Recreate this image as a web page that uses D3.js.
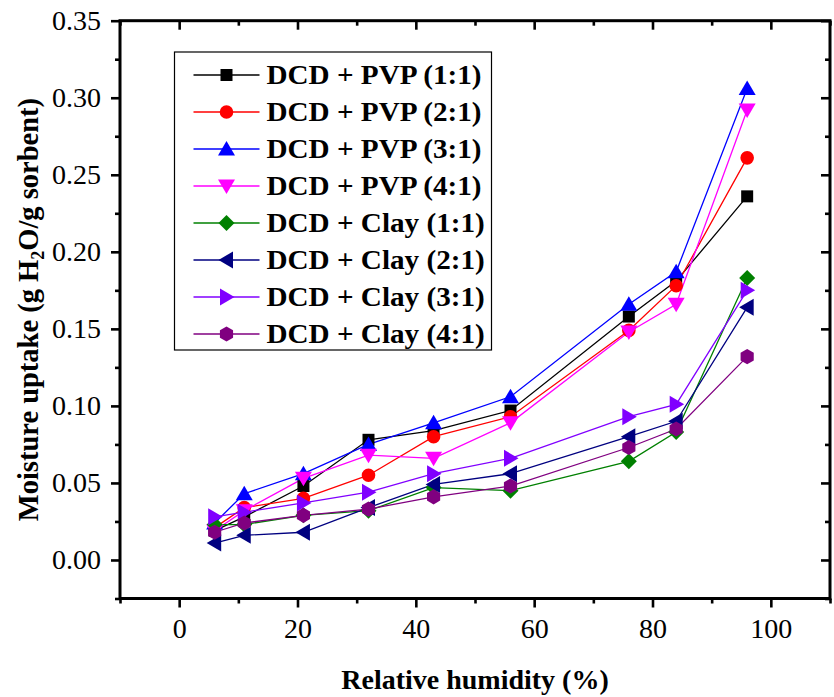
<!DOCTYPE html>
<html lang="en">

<head>
    <meta charset="utf-8">
    <title>Moisture uptake</title>
    <script src="https://d3js.org/d3.v7.min.js"></script>
    <style>
        body { margin: 0; background: #fff; }
        text { font-family: "Liberation Serif", "Times New Roman", serif; }
    </style>
</head>

<body>
    <script>
        // data
        const humidity = [6, 11, 21, 32, 43, 56, 76, 84, 96];
        const seriesNames = [
            "DCD + PVP (1:1)", "DCD + PVP (2:1)", "DCD + PVP (3:1)", "DCD + PVP (4:1)",
            "DCD + Clay (1:1)", "DCD + Clay (2:1)", "DCD + Clay (3:1)", "DCD + Clay (4:1)"
        ];
        const pvp11 = [0.019, 0.028, 0.048, 0.078, 0.084, 0.097, 0.158, 0.181, 0.236];
        const pvp21 = [0.021, 0.034, 0.040, 0.055, 0.080, 0.093, 0.149, 0.178, 0.261];
        const pvp31 = [0.024, 0.043, 0.056, 0.075, 0.089, 0.106, 0.166, 0.187, 0.306];
        const pvp41 = [0.019, 0.032, 0.053, 0.068, 0.066, 0.089, 0.148, 0.166, 0.292];
        const clay11 = [0.023, 0.023, 0.029, 0.032, 0.047, 0.045, 0.064, 0.083, 0.183];
        const clay21 = [0.011, 0.016, 0.018, 0.034, 0.049, 0.056, 0.080, 0.090, 0.164];
        const clay31 = [0.028, 0.031, 0.037, 0.044, 0.056, 0.066, 0.093, 0.101, 0.175];
        const clay41 = [0.018, 0.024, 0.029, 0.033, 0.041, 0.048, 0.073, 0.085, 0.132];
        const xTicks = [0, 20, 40, 60, 80, 100];
        const yTicks = [0.00, 0.05, 0.10, 0.15, 0.20, 0.25, 0.30, 0.35];

        const seriesValues = [pvp11, pvp21, pvp31, pvp41, clay11, clay21, clay31, clay41];
        const colors = ["#000000", "#ff0000", "#0000ff", "#ff00ff", "#008000", "#000080", "#8000ff", "#800080"];
        const shapes = ["square", "circle", "up", "down", "diamond", "left", "right", "hexagon"];

        // dimensions and margins
        const width = 834;
        const height = 697;
        const margin = { top: 20.7, left: 120, right: 4, bottom: 98.5 };
        const innerW = width - margin.left - margin.right;
        const innerH = height - margin.top - margin.bottom;

        const svg = d3.select("body")
            .append("svg")
            .attr("width", width)
            .attr("height", height);

        const g = svg.append("g")
            .attr("transform", "translate(" + margin.left + "," + margin.top + ")");

        // scales
        const x = d3.scaleLinear().domain([-10, 110]).range([0, innerW]);
        const y = d3.scaleLinear().domain([-0.025, 0.35]).range([innerH, 0]);

        const xMinor = d3.range(-10, 111, 20);
        const yMinor = d3.range(-0.025, 0.35, 0.05);

        // marker path for a given shape
        function marker(shape) {
            switch (shape) {
                case "square": return "M-6,-6H6V6H-6Z";
                case "circle": return "M6.8,0A6.8,6.8 0 1,1 -6.8,0A6.8,6.8 0 1,1 6.8,0Z";
                case "up": return "M0,-8L8.5,6.5L-8.5,6.5Z";
                case "down": return "M0,8L8.5,-6.5L-8.5,-6.5Z";
                case "diamond": return "M0,-8L8,0L0,8L-8,0Z";
                case "left": return "M-8,0L6.5,-8.5L6.5,8.5Z";
                case "right": return "M8,0L-6.5,-8.5L-6.5,8.5Z";
                case "hexagon": {
                    const pts = d3.range(6).map(k => {
                        const a = Math.PI / 2 + k * Math.PI / 3;
                        return [7.6 * Math.cos(a), 7.6 * Math.sin(a)];
                    });
                    return "M" + pts.join("L") + "Z";
                }
            }
        }

        // axes: bottom and left with outward ticks, top and right with inward ticks
        const axisW = 3;
        const major = 9, minor = 5;

        function styleAxis(sel) {
            sel.select(".domain").remove();
            sel.selectAll("line").attr("stroke", "#000").attr("stroke-width", 2.6);
            sel.selectAll("text")
                .attr("font-size", 28)
                .attr("fill", "#000");
        }

        g.append("g")
            .attr("transform", "translate(0," + innerH + ")")
            .call(d3.axisBottom(x).tickValues(xTicks).tickSize(major).tickPadding(11).tickFormat(d3.format("d")))
            .call(styleAxis);
        g.append("g")
            .attr("transform", "translate(0," + innerH + ")")
            .call(d3.axisBottom(x).tickValues(xMinor).tickSize(minor).tickFormat(""))
            .call(styleAxis);

        g.append("g")
            .call(d3.axisLeft(y).tickValues(yTicks).tickSize(major).tickPadding(10).tickFormat(d3.format(".2f")))
            .call(styleAxis);
        g.append("g")
            .call(d3.axisLeft(y).tickValues(yMinor).tickSize(minor).tickFormat(""))
            .call(styleAxis);

        g.append("g")
            .call(d3.axisTop(x).tickValues(xTicks).tickSize(-major).tickFormat(""))
            .call(styleAxis);
        g.append("g")
            .call(d3.axisTop(x).tickValues(xMinor).tickSize(-minor).tickFormat(""))
            .call(styleAxis);

        g.append("g")
            .attr("transform", "translate(" + innerW + ",0)")
            .call(d3.axisRight(y).tickValues(yTicks).tickSize(-major).tickFormat(""))
            .call(styleAxis);
        g.append("g")
            .attr("transform", "translate(" + innerW + ",0)")
            .call(d3.axisRight(y).tickValues(yMinor).tickSize(-minor).tickFormat(""))
            .call(styleAxis);

        // frame
        g.append("rect")
            .attr("width", innerW)
            .attr("height", innerH)
            .attr("fill", "none")
            .attr("stroke", "#000")
            .attr("stroke-width", axisW);

        // series lines and markers
        const line = d3.line()
            .x((d, i) => x(humidity[i]))
            .y(d => y(d));

        seriesValues.forEach((vals, s) => {
            g.append("path")
                .datum(vals)
                .attr("d", line)
                .attr("fill", "none")
                .attr("stroke", colors[s])
                .attr("stroke-width", 1.3);
        });

        seriesValues.forEach((vals, s) => {
            g.selectAll(".m" + s)
                .data(vals)
                .enter()
                .append("path")
                .attr("class", "m" + s)
                .attr("d", marker(shapes[s]))
                .attr("transform", (d, i) => "translate(" + x(humidity[i]) + "," + y(d) + ")")
                .attr("fill", colors[s]);
        });

        // legend
        const legend = svg.append("g").attr("transform", "translate(174.5,52)");
        legend.append("rect")
            .attr("width", 317)
            .attr("height", 298)
            .attr("fill", "#fff")
            .attr("stroke", "#000")
            .attr("stroke-width", 1.2);

        const stretch = 1.08;
        const rowY = d3.scaleLinear().domain([0, 7]).range([23, 282]);
        seriesNames.forEach((name, s) => {
            const row = legend.append("g").attr("transform", "translate(0," + rowY(s) + ")");
            row.append("line")
                .attr("x1", 19).attr("x2", 85)
                .attr("stroke", colors[s])
                .attr("stroke-width", 1.3);
            row.append("path")
                .attr("d", marker(shapes[s]))
                .attr("transform", "translate(52,0)")
                .attr("fill", colors[s]);
            row.append("text")
                .attr("transform", "translate(92,9) scale(" + stretch + ",1)")
                .attr("font-size", 27)
                .attr("font-weight", "bold")
                .text(name);
        });

        // axis titles
        svg.append("text")
            .attr("x", margin.left + x(50))
            .attr("y", 689)
            .attr("text-anchor", "middle")
            .attr("font-size", 28)
            .attr("font-weight", "bold")
            .text("Relative humidity (%)");

        const yTitle = svg.append("text")
            .attr("transform", "translate(38," + (margin.top + innerH / 2) + ") rotate(-90)")
            .attr("text-anchor", "middle")
            .attr("font-size", 28.5)
            .attr("font-weight", "bold");
        yTitle.append("tspan").text("Moisture uptake (g H");
        yTitle.append("tspan").attr("font-size", 18).attr("dy", 6).text("2");
        yTitle.append("tspan").attr("dy", -6).text("O/g sorbent)");
    </script>
</body>

</html>
